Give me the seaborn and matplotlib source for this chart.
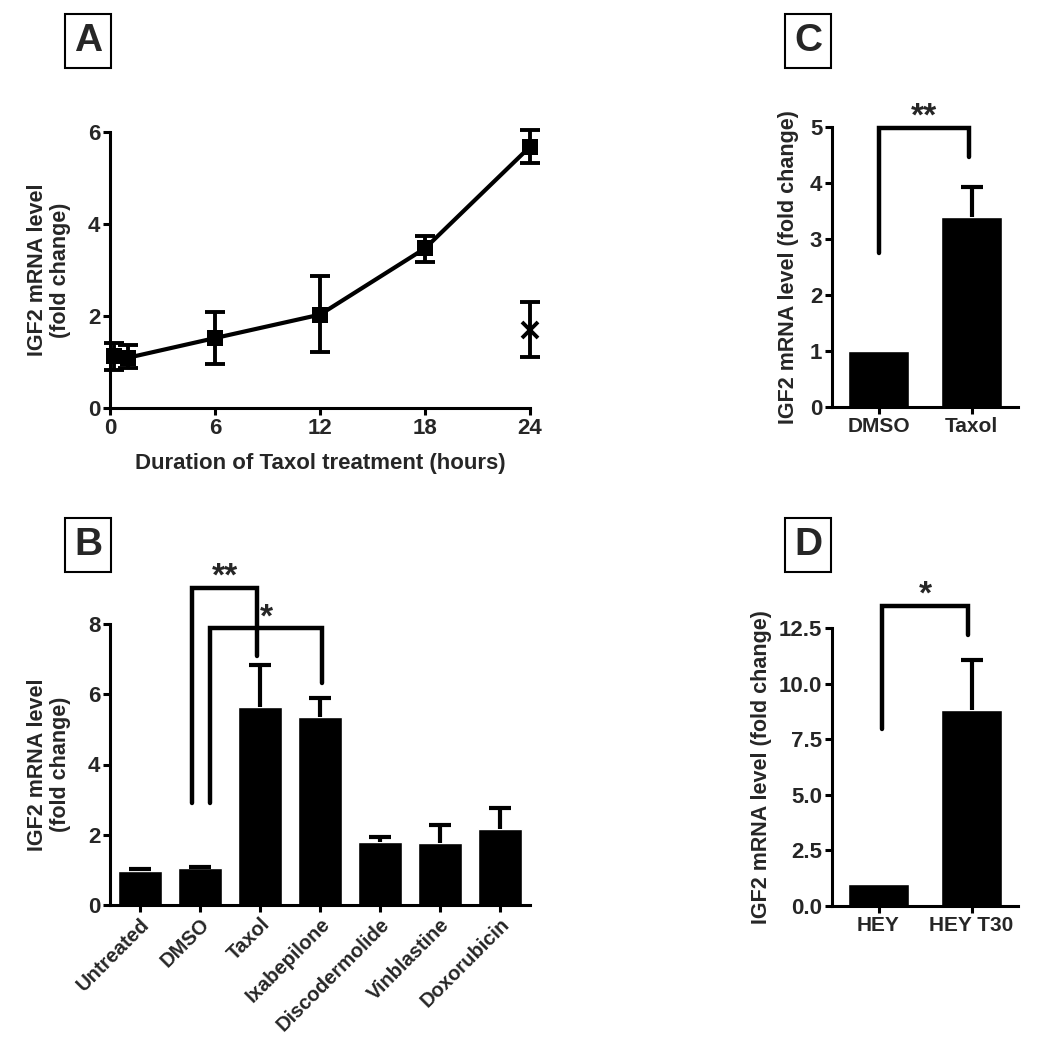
import matplotlib
matplotlib.use('Agg')
import matplotlib.pyplot as plt
import seaborn as sb, numpy as np, pandas as pd

# panel A: IGF2 vs duration of taxol treatment
hours = [0.25, 1, 6, 12, 18, 24]
fold_a = [1.12, 1.09, 1.52, 2.03, 3.47, 5.68]
err_lo_a = [0.30, 0.22, 0.57, 0.82, 0.30, 0.35]
err_hi_a = [0.30, 0.27, 0.57, 0.85, 0.28, 0.37]
x24_hours = [24]
x24_fold = [1.70]
x24_err = [0.60]

# panel B: drugs
drugs = ['Untreated', 'DMSO', 'Taxol', 'Ixabepilone', 'Discodermolide', 'Vinblastine', 'Doxorubicin']
fold_b = [0.98, 1.04, 5.65, 5.35, 1.80, 1.77, 2.15]
sem_b = [0.04, 0.03, 1.18, 0.53, 0.15, 0.51, 0.61]
# significance brackets: label, x left, x right, top, left foot, right foot
sig_b = [('**', 0.87, 1.95, 9.03, 2.90, 7.10),
         ('*', 1.17, 3.03, 7.88, 2.90, 6.33)]

# panel C
groups_c = ['DMSO', 'Taxol']
fold_c = [1.0, 3.40]
sem_c = [0.0, 0.52]
sig_c = [('**', 0.0, 0.97, 4.98, 2.75, 4.46)]

# panel D
groups_d = ['HEY', 'HEY T30']
fold_d = [1.0, 8.80]
sem_d = [0.0, 2.25]
sig_d = [('*', 0.04, 0.96, 13.5, 7.95, 12.2)]

sb.set_style('ticks')
plt.rcParams['font.family'] = ['Liberation Sans', 'DejaVu Sans']
plt.rcParams['font.weight'] = 'bold'
plt.rcParams['axes.labelweight'] = 'bold'

LW = 2.2
TICK = 16
LABEL = 15.5

fig = plt.figure(figsize=(10.44, 10.5), dpi=100)
W, H = 1044, 1050


def box(l, r, t, b):
    return [l / W, 1 - b / H, (r - l) / W, (b - t) / H]


def style(ax):
    sb.despine(ax=ax)
    for s in ['left', 'bottom']:
        ax.spines[s].set_linewidth(LW)
        ax.spines[s].set_color('black')
    ax.tick_params(width=LW, length=5, color='black', labelsize=TICK, pad=2)
    for lab in ax.get_xticklabels() + ax.get_yticklabels():
        lab.set_fontweight('bold')


def bars(ax, cats, vals, sems, width):
    df = pd.DataFrame({'cat': cats, 'val': vals})
    sb.barplot(data=df, x='cat', y='val', color='black', saturation=1, width=width, ax=ax)
    idx = [i for i, s in enumerate(sems) if s > 0]
    eb = ax.errorbar(idx, [vals[i] for i in idx],
                     yerr=[[0] * len(idx), [sems[i] for i in idx]],
                     fmt='none', ecolor='black', elinewidth=3, capsize=8, capthick=3)
    # one-sided (upper) SEM bars only
    eb[1][0].set_visible(False)


def brackets(ax, sigs, star_size):
    for lab, xl, xr, top, fl, fr in sigs:
        ax.plot([xl, xl, xr, xr], [fl, top, top, fr], color='black', lw=3.2,
                solid_capstyle='round', solid_joinstyle='miter', clip_on=False)
        ax.annotate(lab, xy=((xl + xr) / 2, top), xytext=(0, 1.5), textcoords='offset points',
                    ha='center', va='baseline', fontsize=star_size, fontweight='bold',
                    annotation_clip=False)


# ---- A
axA = fig.add_axes(box(110, 530, 132, 408))
sb.lineplot(x=hours, y=fold_a, ax=axA, color='black', lw=3, marker='s', markersize=11,
            markeredgewidth=0)
axA.errorbar(hours, fold_a, yerr=[err_lo_a, err_hi_a], fmt='none', ecolor='black',
             elinewidth=2.8, capsize=7, capthick=2.8)
axA.errorbar(x24_hours, x24_fold, yerr=x24_err, fmt='x', color='black', ms=11, mew=2.8,
             elinewidth=2.8, capsize=7, capthick=2.8)
axA.set_xlim(0, 24)
axA.set_ylim(0, 6)
axA.set_xticks([0, 6, 12, 18, 24])
axA.set_yticks([0, 2, 4, 6])
axA.set_xlabel('Duration of Taxol treatment (hours)', fontsize=16, labelpad=10)
axA.set_ylabel('IGF2 mRNA level\n(fold change)', fontsize=LABEL, labelpad=12, linespacing=1.15)
style(axA)
for art in axA.get_children():
    art.set_clip_on(False)

# ---- B
axB = fig.add_axes(box(110, 530, 624, 905))
bars(axB, drugs, fold_b, sem_b, 0.72)
axB.set_xlim(-0.5, 6.5)
axB.set_ylim(0, 8)
axB.set_yticks([0, 2, 4, 6, 8])
axB.set_xlabel('')
axB.set_ylabel('IGF2 mRNA level\n(fold change)', fontsize=LABEL, labelpad=12, linespacing=1.15)
style(axB)
axB.tick_params(axis='x', labelsize=14.5)
plt.setp(axB.get_xticklabels(), rotation=45, ha='right', rotation_mode='anchor')
brackets(axB, sig_b, 24)

# ---- C
axC = fig.add_axes(box(832, 1018, 127, 407))
bars(axC, groups_c, fold_c, sem_c, 0.66)
axC.set_xlim(-0.5, 1.5)
axC.set_ylim(0, 5)
axC.set_yticks([0, 1, 2, 3, 4, 5])
axC.set_xlabel('')
axC.set_ylabel('IGF2 mRNA level (fold change)', fontsize=LABEL, labelpad=8)
style(axC)
axC.tick_params(axis='x', labelsize=15)
brackets(axC, sig_c, 24)

# ---- D
axD = fig.add_axes(box(832, 1018, 628, 906))
bars(axD, groups_d, fold_d, sem_d, 0.66)
axD.set_xlim(-0.5, 1.5)
axD.set_ylim(0, 12.5)
axD.set_yticks([0, 2.5, 5, 7.5, 10, 12.5])
axD.set_yticklabels(['%.1f' % v for v in [0, 2.5, 5, 7.5, 10, 12.5]])
axD.set_xlabel('')
axD.set_ylabel('IGF2 mRNA level (fold change)', fontsize=LABEL, labelpad=5)
style(axD)
axD.tick_params(axis='x', labelsize=15)
brackets(axD, sig_d, 24)

# panel letters
for lab, px, py in [('A', 88, 41), ('B', 88, 545), ('C', 808, 41), ('D', 808, 545)]:
    fig.text(px / W, 1 - py / H, lab, ha='center', va='center', fontsize=28, fontweight='bold',
             bbox=dict(boxstyle='square,pad=0.22', fc='white', ec='black', lw=1.5))

fig.savefig('out.png', dpi=100, facecolor='white')
